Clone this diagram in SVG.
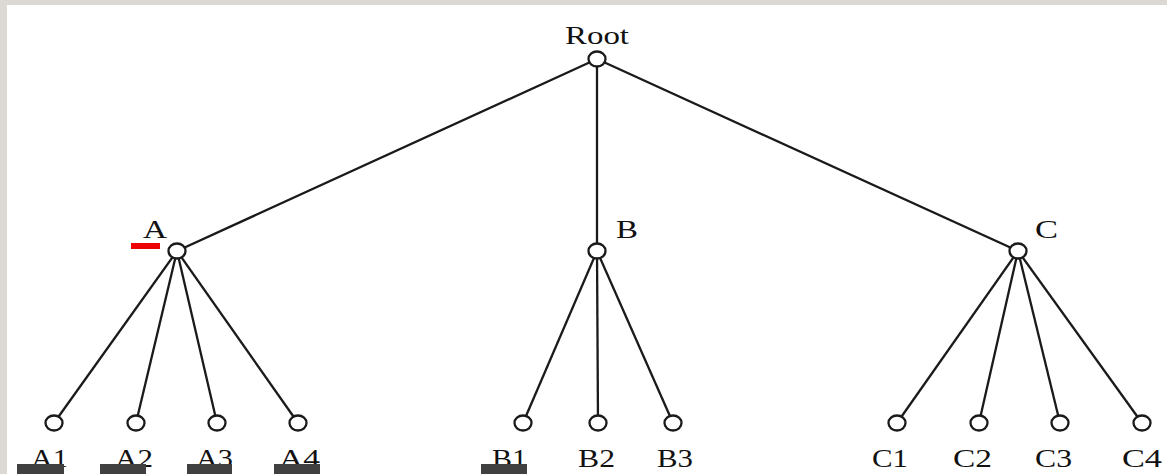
<svg xmlns="http://www.w3.org/2000/svg" width="1167" height="474" viewBox="0 0 1167 474">
  <style>
    .edge { stroke: #1a1a1a; stroke-width: 2.3; fill: none; }
    .node { fill: #ffffff; stroke: #1a1a1a; stroke-width: 2.3; }
    .lbl { font-family: "Liberation Serif", "Times New Roman", serif; font-size: 26px; fill: #111111; }
    .bar { fill: #404040; }
  </style>
  <!-- page frame -->
  <rect x="0" y="0" width="1167" height="474" fill="#dcd9d5"/>
  <rect x="7" y="5" width="1160" height="469" fill="#ffffff"/>

  <g id="connectors">
    <line class="edge" x1="597" y1="59" x2="177" y2="251"/>
    <line class="edge" x1="597" y1="59" x2="597" y2="251"/>
    <line class="edge" x1="597" y1="59" x2="1018" y2="251"/>
    <line class="edge" x1="177" y1="251" x2="54" y2="423"/>
    <line class="edge" x1="177" y1="251" x2="136" y2="423"/>
    <line class="edge" x1="177" y1="251" x2="217" y2="423"/>
    <line class="edge" x1="177" y1="251" x2="298" y2="423"/>
    <line class="edge" x1="597" y1="251" x2="523" y2="423"/>
    <line class="edge" x1="597" y1="251" x2="598" y2="423"/>
    <line class="edge" x1="597" y1="251" x2="673" y2="423"/>
    <line class="edge" x1="1018" y1="251" x2="897" y2="423"/>
    <line class="edge" x1="1018" y1="251" x2="979" y2="423"/>
    <line class="edge" x1="1018" y1="251" x2="1060" y2="423"/>
    <line class="edge" x1="1018" y1="251" x2="1142" y2="423"/>
  </g>

  <g id="root">
    <ellipse class="node" cx="597" cy="59" rx="8.5" ry="7.5"/>
    <text class="lbl" x="565" y="44" textLength="64" lengthAdjust="spacingAndGlyphs">Root</text>
  </g>

  <g id="A">
    <ellipse class="node" cx="177" cy="251" rx="8.5" ry="7.5"/>
    <text class="lbl" x="143" y="238" textLength="24" lengthAdjust="spacingAndGlyphs">A</text>
    <rect x="131" y="243" width="29" height="6" fill="#ee0000"/>
  </g>
  <g id="B">
    <ellipse class="node" cx="597" cy="251" rx="8.5" ry="7.5"/>
    <text class="lbl" x="616" y="238" textLength="22" lengthAdjust="spacingAndGlyphs">B</text>
  </g>
  <g id="C">
    <ellipse class="node" cx="1018" cy="251" rx="8.5" ry="7.5"/>
    <text class="lbl" x="1035" y="238" textLength="23" lengthAdjust="spacingAndGlyphs">C</text>
  </g>

  <g id="A1">
    <ellipse class="node" cx="54" cy="423" rx="8.5" ry="7.5"/>
    <text class="lbl" x="31" y="467" textLength="37" lengthAdjust="spacingAndGlyphs">A1</text>
    <rect class="bar" x="17" y="464" width="47" height="10"/>
  </g>
  <g id="A2">
    <ellipse class="node" cx="136" cy="423" rx="8.5" ry="7.5"/>
    <text class="lbl" x="115" y="467" textLength="38" lengthAdjust="spacingAndGlyphs">A2</text>
    <rect class="bar" x="100" y="464" width="46" height="10"/>
  </g>
  <g id="A3">
    <ellipse class="node" cx="217" cy="423" rx="8.5" ry="7.5"/>
    <text class="lbl" x="196" y="467" textLength="37" lengthAdjust="spacingAndGlyphs">A3</text>
    <rect class="bar" x="187" y="464" width="45" height="10"/>
  </g>
  <g id="A4">
    <ellipse class="node" cx="298" cy="423" rx="8.5" ry="7.5"/>
    <text class="lbl" x="279" y="467" textLength="41" lengthAdjust="spacingAndGlyphs">A4</text>
    <rect class="bar" x="274" y="464" width="46" height="10"/>
  </g>

  <g id="B1">
    <ellipse class="node" cx="523" cy="423" rx="8.5" ry="7.5"/>
    <text class="lbl" x="492" y="467" textLength="35" lengthAdjust="spacingAndGlyphs">B1</text>
    <rect class="bar" x="481" y="464" width="46" height="10"/>
  </g>
  <g id="B2">
    <ellipse class="node" cx="598" cy="423" rx="8.5" ry="7.5"/>
    <text class="lbl" x="578" y="467" textLength="37" lengthAdjust="spacingAndGlyphs">B2</text>
  </g>
  <g id="B3">
    <ellipse class="node" cx="673" cy="423" rx="8.5" ry="7.5"/>
    <text class="lbl" x="657" y="467" textLength="36" lengthAdjust="spacingAndGlyphs">B3</text>
  </g>

  <g id="C1">
    <ellipse class="node" cx="897" cy="423" rx="8.5" ry="7.5"/>
    <text class="lbl" x="872" y="467" textLength="36" lengthAdjust="spacingAndGlyphs">C1</text>
  </g>
  <g id="C2">
    <ellipse class="node" cx="979" cy="423" rx="8.5" ry="7.5"/>
    <text class="lbl" x="953" y="467" textLength="39" lengthAdjust="spacingAndGlyphs">C2</text>
  </g>
  <g id="C3">
    <ellipse class="node" cx="1060" cy="423" rx="8.5" ry="7.5"/>
    <text class="lbl" x="1035" y="467" textLength="37" lengthAdjust="spacingAndGlyphs">C3</text>
  </g>
  <g id="C4">
    <ellipse class="node" cx="1142" cy="423" rx="8.5" ry="7.5"/>
    <text class="lbl" x="1122" y="467" textLength="40" lengthAdjust="spacingAndGlyphs">C4</text>
  </g>
</svg>
